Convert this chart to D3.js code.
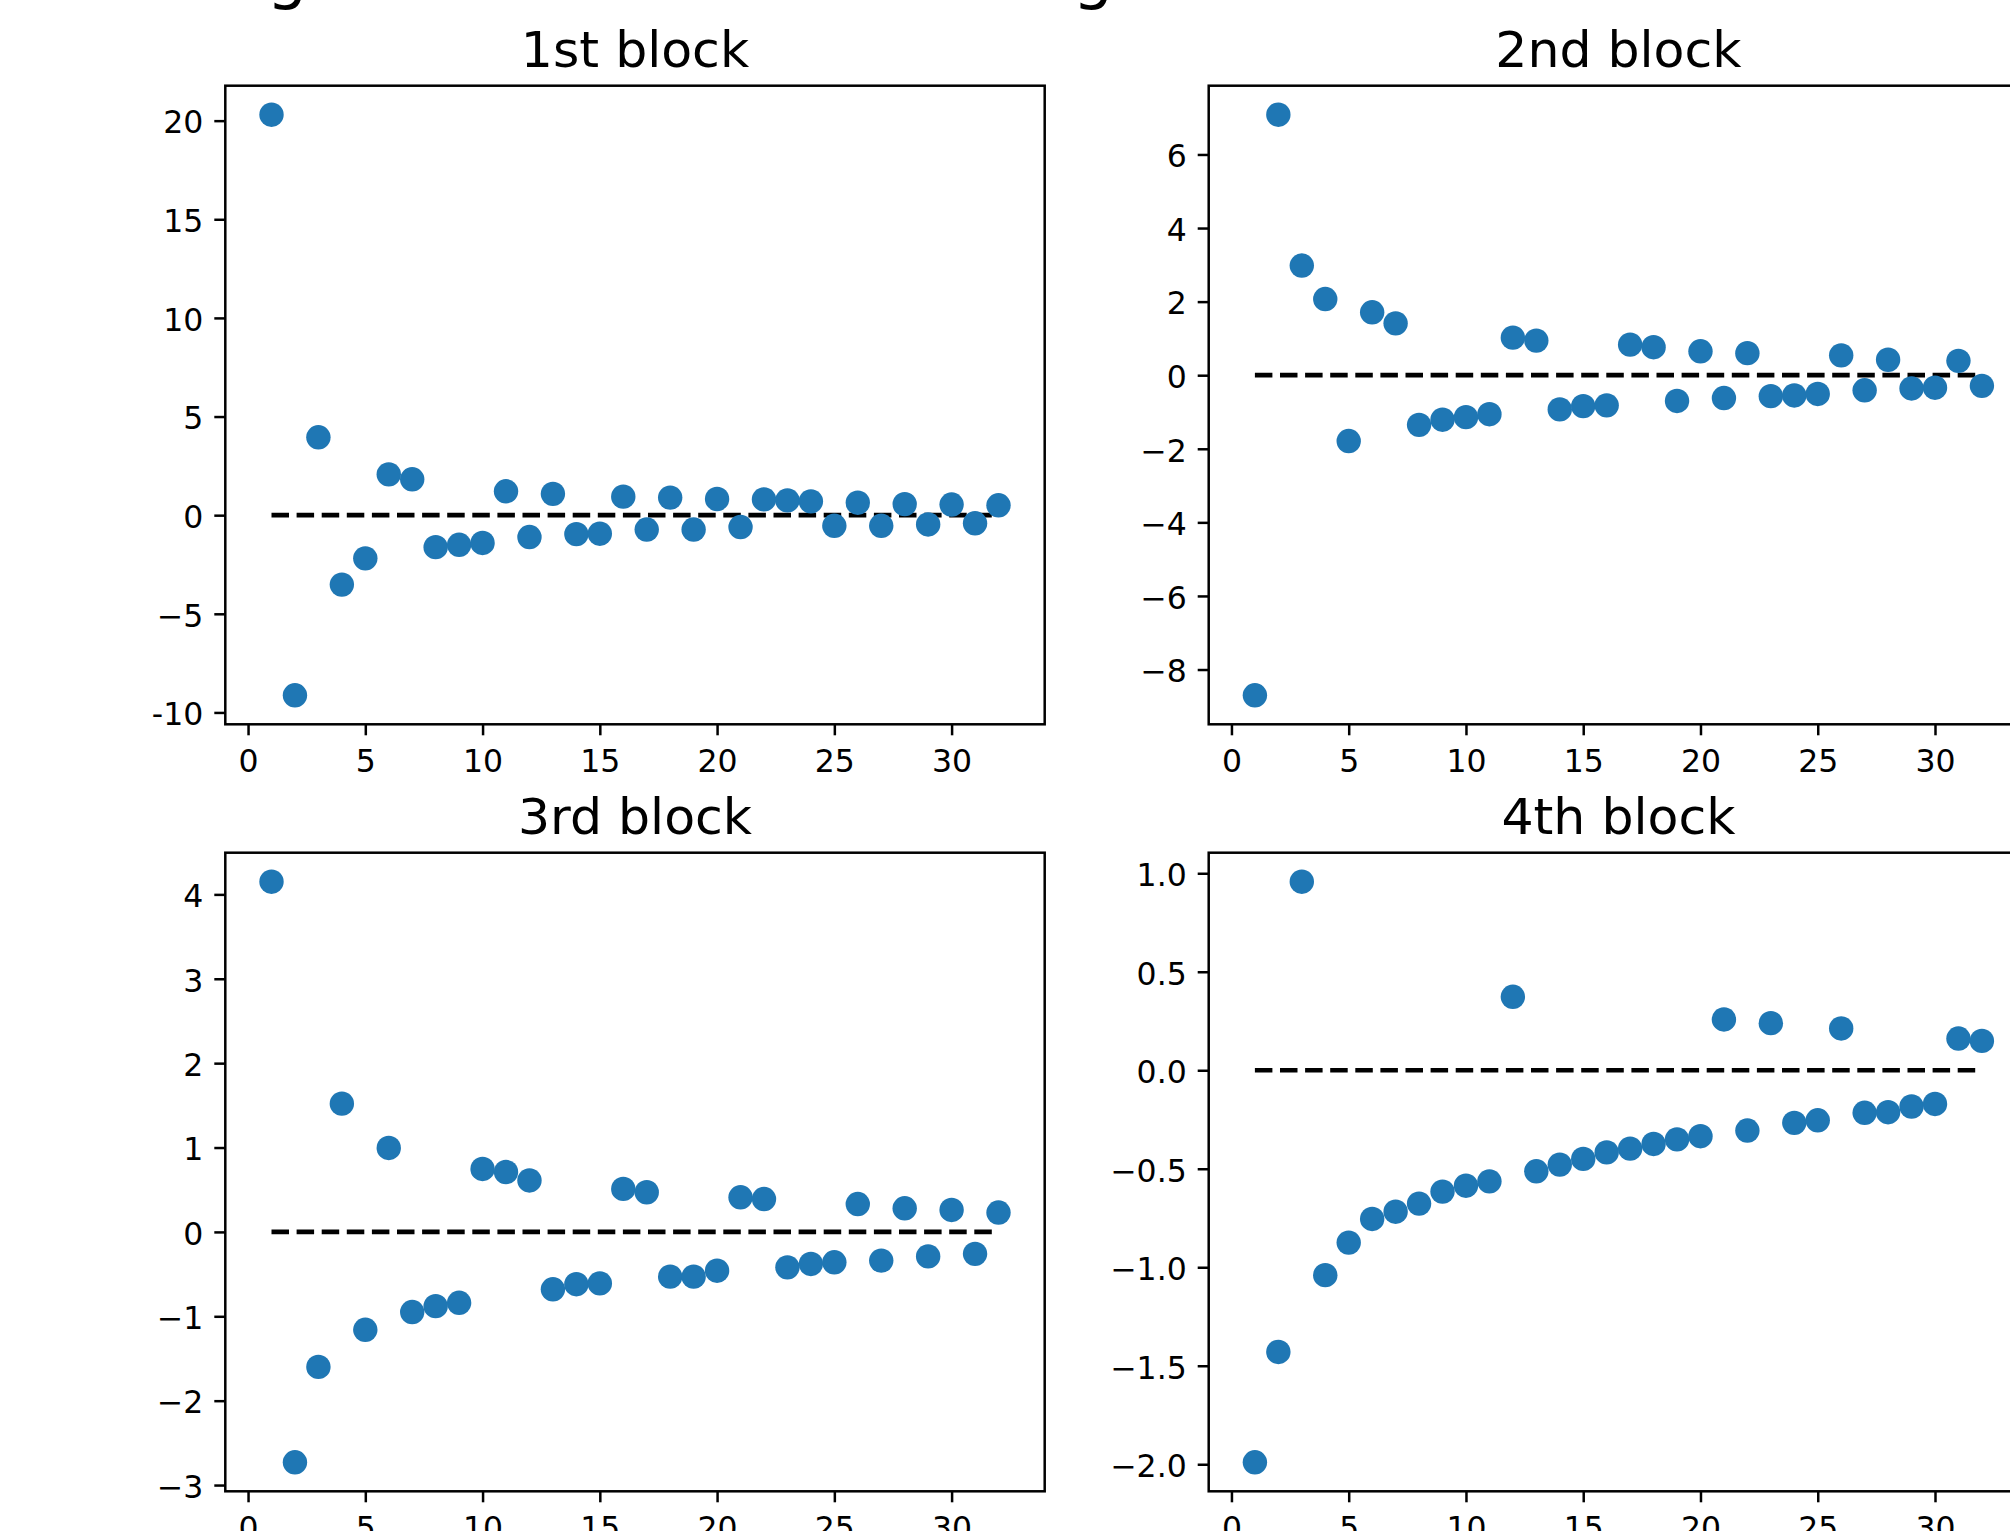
<!DOCTYPE html>
<html>
<head>
<meta charset="utf-8">
<script src="https://cdn.jsdelivr.net/npm/d3@7"></script>
<style>
  html, body { margin: 0; padding: 0; background: #fff; }
  svg { display: block; font-family: "DejaVu Sans", sans-serif; }
</style>
</head>
<body>
<svg id="chart" width="2010" height="1531"></svg>
<script>
// ---- data ----
const xs = d3.range(1, 33); // 1..32
const titles = ["1st block", "2nd block", "3rd block", "4th block"];
const block1 = [20.3, -9.13, 3.95, -3.52, -2.19, 2.07, 1.82, -1.62, -1.50, -1.41,
                1.21, -1.11, 1.08, -0.96, -0.94, 0.94, -0.73, 0.89, -0.73, 0.82,
                -0.60, 0.80, 0.75, 0.70, -0.54, 0.63, -0.54, 0.56, -0.47, 0.54,
                -0.41, 0.50];
const block2 = [-8.70, 7.08, 2.98, 2.07, -1.79, 1.71, 1.41, -1.35, -1.21, -1.14,
                -1.06, 1.02, 0.94, -0.93, -0.84, -0.82, 0.83, 0.76, -0.70, 0.65,
                -0.62, 0.60, -0.57, -0.55, -0.51, 0.54, -0.41, 0.42, -0.36, -0.34,
                0.39, -0.29];
const block3 = [4.15, -2.73, -1.60, 1.52, -1.16, 0.995, -0.95, -0.88, -0.84, 0.746,
                0.71, 0.61, -0.68, -0.62, -0.61, 0.51, 0.47, -0.53, -0.53, -0.46,
                0.41, 0.39, -0.42, -0.38, -0.36, 0.33, -0.34, 0.28, -0.29, 0.26,
                -0.26, 0.23];
const block4 = [-1.99, -1.43, 0.957, -1.04, -0.875, -0.755, -0.718, -0.677, -0.616, -0.586,
                -0.564, 0.373, -0.513, -0.479, -0.45, -0.417, -0.398, -0.374, -0.351, -0.335,
                0.258, -0.306, 0.239, -0.267, -0.254, 0.212, -0.216, -0.213, -0.184, -0.171,
                0.161, 0.149];
const xTicks = [0, 5, 10, 15, 20, 25, 30];
const yTicks1 = [-10, -5, 0, 5, 10, 15, 20];
const yTicks2 = [-8, -6, -4, -2, 0, 2, 4, 6];
const yTicks3 = [-3, -2, -1, 0, 1, 2, 3, 4];
const yTicks4 = [-2.0, -1.5, -1.0, -0.5, 0.0, 0.5, 1.0];
const yLabels1 = ["-10", "\u22125", "0", "5", "10", "15", "20"];
const yLabels2 = ["\u22128", "\u22126", "\u22124", "\u22122", "0", "2", "4", "6"];
const yLabels3 = ["\u22123", "\u22122", "\u22121", "0", "1", "2", "3", "4"];
const yLabels4 = ["\u22122.0", "\u22121.5", "\u22121.0", "\u22120.5", "0.0", "0.5", "1.0"];
const suptitleGlyphs = ["g", "g"];

// ---- layout ----
const svg = d3.select("#chart");
const W = 819.4, H = 638.6;
const cols = [225.3, 1208.7];
const rows = [85.7, 852.7];
const xDomain = [-0.97, 33.97];
const C = "#1f77b4";
const tickFont = 31.5, titleFont = 50.5;

const panels = [
  {title: titles[0], vals: block1, ticks: yTicks1, labels: yLabels1, col: 0, row: 0},
  {title: titles[1], vals: block2, ticks: yTicks2, labels: yLabels2, col: 1, row: 0},
  {title: titles[2], vals: block3, ticks: yTicks3, labels: yLabels3, col: 0, row: 1},
  {title: titles[3], vals: block4, ticks: yTicks4, labels: yLabels4, col: 1, row: 1},
];

// suptitle (cut off at top of picture – only descenders visible)
const supX = [287, 1093];
svg.append("g").selectAll("text").data(suptitleGlyphs).join("text")
  .attr("x", (d, i) => supX[i]).attr("y", -3)
  .attr("text-anchor", "middle")
  .attr("font-size", 64)
  .attr("fill", "#000")
  .text(d => d);

panels.forEach(p => {
  const left = cols[p.col], top = rows[p.row];
  const x = d3.scaleLinear().domain(xDomain).range([left, left + W]);
  const [mn, mx] = d3.extent(p.vals);
  const pad = (mx - mn) * 0.05;
  const y = d3.scaleLinear().domain([mn - pad, mx + pad]).range([top + H, top]);

  const g = svg.append("g");

  // y axis
  const ya = g.append("g").attr("transform", `translate(${left},0)`)
    .call(d3.axisLeft(y).tickValues(p.ticks).tickSize(11).tickPadding(11).tickSizeOuter(0)
      .tickFormat((d, i) => p.labels[i]));
  ya.select(".domain").remove();
  ya.selectAll(".tick line").attr("stroke", "#000").attr("stroke-width", 2.5);
  ya.selectAll(".tick text").attr("font-size", tickFont).attr("fill", "#000")
    .attr("font-family", "DejaVu Sans").attr("dy", "0.39em");

  // x axis
  const xa = g.append("g").attr("transform", `translate(0,${top + H})`)
    .call(d3.axisBottom(x).tickValues(xTicks).tickSize(11).tickPadding(14).tickSizeOuter(0)
      .tickFormat(d3.format("d")));
  xa.select(".domain").remove();
  xa.selectAll(".tick line").attr("stroke", "#000").attr("stroke-width", 2.5);
  xa.selectAll(".tick text").attr("font-size", tickFont).attr("fill", "#000")
    .attr("font-family", "DejaVu Sans");

  // dashed zero line
  g.append("line")
    .attr("x1", x(xs[0])).attr("x2", x(xs[xs.length - 1]))
    .attr("y1", y(0)).attr("y2", y(0))
    .attr("stroke", "#000").attr("stroke-width", 4.7)
    .attr("stroke-dasharray", "17.5 7.6");

  // points
  g.append("g").selectAll("circle").data(p.vals).join("circle")
    .attr("cx", (d, i) => x(xs[i]))
    .attr("cy", d => y(d))
    .attr("r", 12.2)
    .attr("fill", C);

  // frame
  g.append("rect").attr("x", left).attr("y", top).attr("width", W).attr("height", H)
    .attr("fill", "none").attr("stroke", "#000").attr("stroke-width", 2.5);

  // title
  g.append("text")
    .attr("x", left + W / 2).attr("y", top - 19)
    .attr("text-anchor", "middle")
    .attr("font-size", titleFont)
    .attr("fill", "#000")
    .text(p.title);
});
</script>
</body>
</html>
